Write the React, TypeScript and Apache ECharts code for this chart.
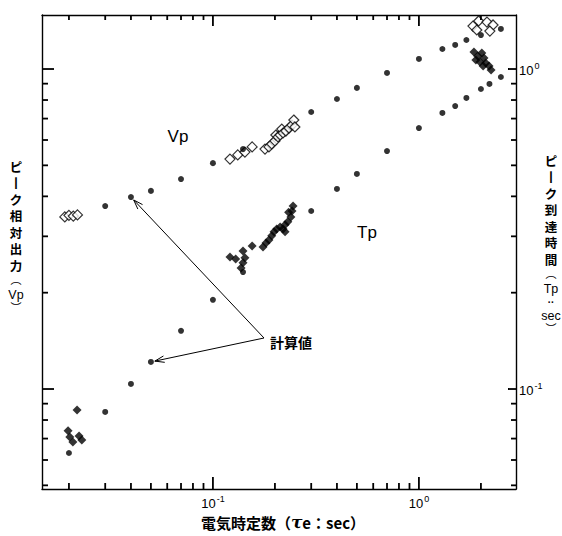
import React, { useEffect, useRef } from "react";
import * as echarts from "echarts";

// Calculated values (dots)
const calcVpX = [0.03, 0.04, 0.05, 0.07, 0.1, 0.14, 0.3, 0.4, 0.5, 0.7, 1.0, 1.3, 1.5, 1.7, 2.0, 2.5, 3.0];
const calcVpY = [0.373, 0.398, 0.416, 0.453, 0.508, 0.562, 0.734, 0.806, 0.873, 0.972, 1.075, 1.155, 1.189, 1.232, 1.277, 1.334, 1.381];
const calcTpX = [0.02, 0.03, 0.04, 0.05, 0.07, 0.1, 0.14, 0.3, 0.4, 0.5, 0.7, 1.0, 1.3, 1.5, 1.7, 2.0, 2.2, 2.5, 3.0];
const calcTpY = [0.0631, 0.0848, 0.1037, 0.1215, 0.152, 0.19, 0.232, 0.36, 0.422, 0.47, 0.554, 0.654, 0.729, 0.766, 0.812, 0.866, 0.898, 0.944, 1.007];

// Measured Vp (open diamonds)
const measVpX = [0.0191, 0.0200, 0.0210, 0.0220, 0.121, 0.132, 0.143, 0.155, 0.179, 0.187, 0.193, 0.200, 0.202, 0.207, 0.212, 0.216, 0.219, 0.226, 0.234, 0.242, 0.247, 0.250, 1.83, 1.95, 1.91, 2.14, 2.29, 2.21];
const measVpY = [0.345, 0.349, 0.347, 0.350, 0.523, 0.539, 0.55, 0.571, 0.562, 0.571, 0.583, 0.596, 0.622, 0.613, 0.622, 0.649, 0.631, 0.64, 0.654, 0.668, 0.693, 0.659, 1.362, 1.413, 1.324, 1.402, 1.373, 1.314];

// Measured Tp (filled diamonds)
const measTpX = [0.0198, 0.0202, 0.0209, 0.0219, 0.0224, 0.0231, 0.121, 0.129, 0.140, 0.143, 0.140, 0.137, 0.155, 0.175, 0.181, 0.187, 0.193, 0.198, 0.204, 0.212, 0.219, 0.224, 0.231, 0.239, 0.242, 0.245, 0.233, 0.224, 1.85, 1.93, 2.02, 1.89, 1.98, 2.07, 2.11, 2.19, 2.24, 2.05];
const measTpY = [0.074, 0.0708, 0.0683, 0.086, 0.0713, 0.0693, 0.2585, 0.255, 0.270, 0.257, 0.248, 0.239, 0.280, 0.278, 0.286, 0.292, 0.301, 0.310, 0.316, 0.321, 0.316, 0.326, 0.333, 0.345, 0.360, 0.373, 0.357, 0.310, 1.13, 1.098, 1.122, 1.067, 1.052, 1.082, 1.044, 1.022, 0.993, 1.022];

// Axis extents and ticks
const X_MIN = 0.0148;
const X_MAX = 2.96;
const Y_MIN = 0.0487;
const Y_MAX = 1.475;
const xMinorTicks = [0.02, 0.03, 0.04, 0.05, 0.06, 0.07, 0.08, 0.09, 0.2, 0.3, 0.4, 0.5, 0.6, 0.7, 0.8, 0.9, 2];
const xMajorTicks = [0.1, 1];
const yMinorTicks = [0.05, 0.06, 0.07, 0.08, 0.09, 0.2, 0.3, 0.4, 0.5, 0.6, 0.7, 0.8, 0.9];
const yMajorTicks = [0.1, 1];
const decadeLabels = [0.1, 1];

const zip = (a: number[], b: number[]) => a.map((v, i) => [v, b[i]]);

const JP = "'Noto Sans CJK JP', sans-serif";
const JPV = "'DejaVu Sans', 'Noto Sans CJK JP', sans-serif";
const LAT = "'Liberation Sans', Arial, sans-serif";

const GL = 42, GT = 15, GW = 474, GH = 474;

export default function App() {
  const ref = useRef<HTMLDivElement>(null);
  useEffect(() => {
    const chart = echarts.init(ref.current!, null, { renderer: "svg" });
    const lineStyle = { color: "#000", width: 1.4 };
    const labelFmt = (v: number) => {
      const e = Math.round(Math.log10(v));
      return "{b|10}{s|" + (e < 0 ? "-" + -e : "" + e) + "}";
    };
    const rich = {
      b: { fontSize: 13, fontFamily: LAT, color: "#000", lineHeight: 16, verticalAlign: "bottom" },
      s: { fontSize: 9, fontFamily: LAT, color: "#000", lineHeight: 16, verticalAlign: "top", padding: [0, 0, 6, 1] },
    };
    const xBase = (pos: string, label: boolean) => ({
      type: "log",
      position: pos,
      min: X_MIN,
      max: X_MAX,
      logBase: 10,
      axisLine: { show: true, lineStyle },
      axisTick: { show: false },
      axisLabel: label
        ? { show: true, customValues: decadeLabels, formatter: labelFmt, rich, margin: 5 }
        : { show: false },
      splitLine: { show: false },
      minorTick: { show: false },
    });
    const yBase = (pos: string, label: boolean) => ({
      type: "log",
      position: pos,
      min: Y_MIN,
      max: Y_MAX,
      logBase: 10,
      axisLine: { show: true, lineStyle },
      axisTick: { show: false },
      axisLabel: label
        ? { show: true, customValues: decadeLabels, formatter: labelFmt, rich, margin: 3 }
        : { show: false },
      splitLine: { show: false },
      minorTick: { show: false },
    });

    chart.setOption({
      animation: false,
      backgroundColor: "#fff",
      grid: { left: GL, top: GT, width: GW, height: GH, containLabel: false },
      xAxis: [xBase("bottom", true), xBase("top", false)],
      yAxis: [yBase("left", false), yBase("right", true)],
      series: [
        {
          name: "計算値 Vp",
          type: "scatter",
          data: zip(calcVpX, calcVpY),
          symbol: "circle",
          symbolSize: 6,
          itemStyle: { color: "#000" },
          z: 5,
        },
        {
          name: "計算値 Tp",
          type: "scatter",
          data: zip(calcTpX, calcTpY),
          symbol: "circle",
          symbolSize: 6,
          itemStyle: { color: "#000" },
          z: 5,
        },
        {
          name: "Vp",
          type: "scatter",
          data: zip(measVpX, measVpY),
          symbol: "diamond",
          symbolSize: 10,
          itemStyle: { color: "#fff", borderColor: "#000", borderWidth: 1.2 },
          z: 3,
        },
        {
          name: "Tp",
          type: "scatter",
          data: zip(measTpX, measTpY),
          symbol: "diamond",
          symbolSize: 9,
          itemStyle: { color: "#000" },
          z: 4,
        },
      ],
    });

    // ticks as thin filled rects, positioned through the series' log axes
    const px = (v: number) => (chart.convertToPixel({ seriesIndex: 0 }, [v, 0.5]) as number[])[0];
    const py = (v: number) => (chart.convertToPixel({ seriesIndex: 0 }, [0.1, v]) as number[])[1];
    const GR = GL + GW, GB = GT + GH;
    const T = 1.8;
    const rect = (x: number, y: number, w: number, h: number) => ({
      type: "rect",
      shape: { x, y, width: w, height: h },
      style: { fill: "#000" },
      z: 10,
    });
    const ticks: any[] = [];
    const addX = (v: number, nb: number, nt: number) => {
      const x = px(v);
      ticks.push(rect(x - T / 2, GB - nb, T, nb));
      ticks.push(rect(x - T / 2, GT, T, nt));
    };
    const addY = (v: number, nl: number, nr: number) => {
      const y = py(v);
      ticks.push(rect(GL, y - T / 2, nl, T));
      ticks.push(rect(GR - nr, y - T / 2, nr, T));
    };
    xMinorTicks.forEach((v) => addX(v, 6, 5));
    xMajorTicks.forEach((v) => addX(v, 12, 11));
    yMinorTicks.forEach((v) => addY(v, 6, 5));
    yMajorTicks.forEach((v) => addY(v, 12, 8));

    const pivot = [264, 338];
    const tip = (p: number[], back: number) => {
      const dx = pivot[0] - p[0];
      const dy = pivot[1] - p[1];
      const d = Math.hypot(dx, dy);
      return [p[0] + (dx / d) * back, p[1] + (dy / d) * back];
    };
    const arrow = (to: number[]) => {
      const a = Math.atan2(to[1] - pivot[1], to[0] - pivot[0]);
      const h = 10;
      const ang = 0.33;
      const p1 = [to[0] - h * Math.cos(a - ang), to[1] - h * Math.sin(a - ang)];
      const p2 = [to[0] - h * Math.cos(a + ang), to[1] - h * Math.sin(a + ang)];
      return [
        { type: "line", shape: { x1: pivot[0], y1: pivot[1], x2: to[0], y2: to[1] }, style: { stroke: "#000", lineWidth: 1 }, z: 10 },
        { type: "polyline", shape: { points: [p1, to, p2] }, style: { stroke: "#000", fill: null, lineWidth: 1 }, z: 10 },
      ];
    };
    const a1 = chart.convertToPixel({ seriesIndex: 0 }, [calcVpX[1], calcVpY[1]]) as number[];
    const a2 = chart.convertToPixel({ seriesIndex: 1 }, [calcTpX[3], calcTpY[3]]) as number[];

    const vRich = {
      c: { fontFamily: JPV, fontWeight: "bold", fontSize: 12.5, lineHeight: 16.5, align: "center" },
      p: { fontFamily: JPV, fontSize: 11, lineHeight: 12.5, align: "center" },
      l: { fontFamily: LAT, fontSize: 12.5, lineHeight: 15, align: "center" },
      d: { fontFamily: LAT, fontSize: 10, lineHeight: 12, align: "center", fontWeight: "bold" },
    };
    const leftTitle = ["{c|ピ}", "{c|丨}", "{c|ク}", "{c|相}", "{c|対}", "{c|出}", "{c|力}", "{p|︵}", "{l|Vp}", "{p|︶}"].join("\n");
    const rightTitle = ["{c|ピ}", "{c|丨}", "{c|ク}", "{c|到}", "{c|達}", "{c|時}", "{c|間}", "{p|︵}", "{l|Tp}", "{d|··}", "{l|sec}", "{p|︶}"].join("\n");

    chart.setOption({
      graphic: [
        ...ticks,
        ...arrow(tip(a1, 4)),
        ...arrow(tip(a2, 4)),
        {
          type: "text", x: 270, y: 342, z: 10,
          style: { text: "計算値", x: 0, y: 0, fill: "#000", font: `bold 14px ${JP}`, textAlign: "left", textVerticalAlign: "middle", verticalAlign: "middle" },
        },
        {
          type: "text", x: 178, y: 136, z: 10,
          style: { text: "Vp", x: 0, y: 0, fill: "#000", font: `17px ${LAT}`, textAlign: "center", textVerticalAlign: "middle", verticalAlign: "middle" },
        },
        {
          type: "text", x: 367, y: 232, z: 10,
          style: { text: "Tp", x: 0, y: 0, fill: "#000", font: `17px ${LAT}`, textAlign: "center", textVerticalAlign: "middle", verticalAlign: "middle" },
        },
        {
          type: "text", x: 283, y: 522, z: 10,
          style: {
            text: "電気時定数（{t|τ}e：sec）",
            x: 0, y: 0, fill: "#000", font: `bold 15px ${JP}`, textAlign: "center", textVerticalAlign: "middle", verticalAlign: "middle",
            rich: { t: { fontFamily: "'DejaVu Serif', serif", fontStyle: "italic", fontSize: 17, fontWeight: "bold" } },
          },
        },
        {
          type: "text", x: 16, y: 159, z: 10,
          style: { text: leftTitle, x: 0, y: 0, fill: "#000", textAlign: "center", textVerticalAlign: "top", verticalAlign: "top", rich: vRich },
        },
        {
          type: "text", x: 551, y: 153, z: 10,
          style: { text: rightTitle, x: 0, y: 0, fill: "#000", textAlign: "center", textVerticalAlign: "top", verticalAlign: "top", rich: vRich },
        },
      ],
    });

    return () => chart.dispose();
  }, []);
  return (
    <div
      ref={ref}
      style={{ position: "fixed", left: 0, top: 0, width: 562, height: 536, background: "#fff" }}
    />
  );
}
